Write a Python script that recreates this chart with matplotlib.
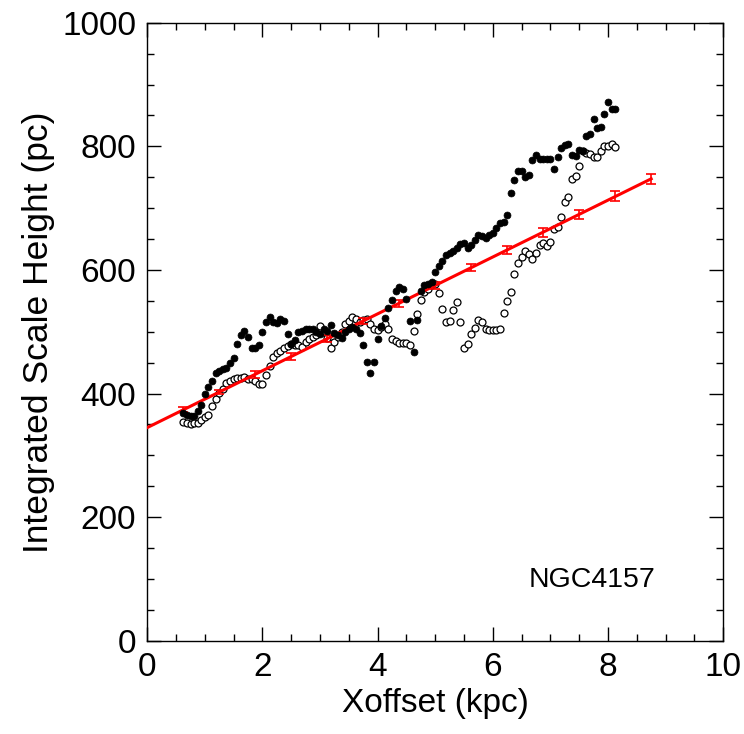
import numpy as np
import matplotlib
matplotlib.use('Agg')
import matplotlib.pyplot as plt
from matplotlib.ticker import MultipleLocator

plt.rcParams['font.family'] = ['Liberation Sans', 'DejaVu Sans']

# posiciones en x (kpc), paso de 0.0625
xoff = [0.625, 0.6875, 0.75, 0.8125, 0.875, 0.9375, 1.0, 1.0625, 1.125, 1.1875,
        1.25, 1.3125, 1.375, 1.4375, 1.5, 1.5625, 1.625, 1.6875, 1.75, 1.8125,
        1.875, 1.9375, 2.0, 2.0625, 2.125, 2.1875, 2.25, 2.3125, 2.375, 2.4375,
        2.5, 2.5625, 2.625, 2.6875, 2.75, 2.8125, 2.875, 2.9375, 3.0, 3.0625,
        3.125, 3.1875, 3.25, 3.3125, 3.375, 3.4375, 3.5, 3.5625, 3.625, 3.6875,
        3.75, 3.8125, 3.875, 3.9375, 4.0, 4.0625, 4.125, 4.1875, 4.25, 4.3125,
        4.375, 4.4375, 4.5, 4.5625, 4.625, 4.6875, 4.75, 4.8125, 4.875, 4.9375,
        5.0, 5.0625, 5.125, 5.1875, 5.25, 5.3125, 5.375, 5.4375, 5.5, 5.5625,
        5.625, 5.6875, 5.75, 5.8125, 5.875, 5.9375, 6.0, 6.0625, 6.125, 6.1875,
        6.25, 6.3125, 6.375, 6.4375, 6.5, 6.5625, 6.625, 6.6875, 6.75, 6.8125,
        6.875, 6.9375, 7.0, 7.0625, 7.125, 7.1875, 7.25, 7.3125, 7.375, 7.4375,
        7.5, 7.5625, 7.625, 7.6875, 7.75, 7.8125, 7.875, 7.9375, 8.0, 8.0625,
        8.125]

# altura de escala integrada (pc), puntos llenos
h_lleno = [368, 365, 364, 363, 372, 382, 400, 411, 421, 434,
           437, 439, 441, 450, 457, 481, 495, 502, 492, 473,
           473, 478, 500, 516, 524, 515, 514, 520, 518, 496,
           481, 487, 500, 502, 504, 505, 504, 500, 496, 505,
           502, 511, 498, 494, 490, 500, 505, 507, 505, 498,
           478, 451, 433, 451, 488, 509, 523, 539, 551, 566,
           572, 569, 553, 518, 468, 519, 566, 575, 578, 581,
           596, 606, 615, 624, 627, 630, 635, 642, 644, 635,
           640, 648, 656, 655, 652, 656, 660, 668, 676, 678,
           689, 725, 745, 760, 760, 751, 753, 778, 786, 779,
           780, 779, 779, 764, 782, 797, 802, 804, 786, 784,
           794, 792, 817, 820, 844, 829, 832, 853, 871, 860,
           860]

# puntos vacios
h_vacio = [354, 353, 351, 352, 353, 358, 362, 366, 380, 391,
           401, 407, 417, 420, 423, 425, 426, 427, 423, 424,
           420, 416, 415, 430, 444, 459, 465, 469, 473, 477,
           481, 479, 478, 476, 484, 488, 492, 495, 510, 500,
           490, 473, 484, 491, 500, 512, 518, 524, 520, 516,
           519, 520, 512, 505, 503, 508, 512, 504, 489, 485,
           482, 482, 482, 478, 501, 529, 552, 565, 570, 575,
           577, 563, 537, 515, 517, 536, 548, 515, 474, 481,
           496, 506, 519, 516, 504, 503, 503, 503, 504, 530,
           549, 564, 593, 612, 621, 631, 626, 618, 627, 641,
           644, 638, 646, 667, 670, 686, 710, 718, 747, 752,
           768, 793, 790, 788, 782, 782, 793, 800, 800, 804,
           799]

# ajuste lineal con barras de error
ajuste_x = [0.0, 8.75]
ajuste_y = [345, 747.5]
barra_x = [0.625, 1.25, 1.875, 2.5, 3.125, 3.75, 4.375, 5.0, 5.625, 6.25, 6.875, 7.5, 8.125, 8.75]
barra_y = [374, 402.5, 431, 460, 489, 517.5, 546, 575, 604, 632.5, 661, 690, 719, 747.5]
barra_err = [4, 4, 5, 5, 5, 5, 6, 6, 6, 7, 7, 7, 8, 8]

fig = plt.figure(figsize=(7.44, 7.34), dpi=100)
ax = fig.add_axes([0.198, 0.127, 0.774, 0.842])

ax.plot(ajuste_x, ajuste_y, color='red', lw=2.2, zorder=3)
ax.errorbar(barra_x, barra_y, yerr=barra_err, fmt='none', ecolor='red',
            elinewidth=1.2, capsize=3.5, capthick=1.2, zorder=3)

ax.plot(xoff, h_vacio, 'o', ms=5, mfc='white', mec='black', mew=0.9, ls='none', zorder=2)
ax.plot(xoff, h_lleno, 'o', ms=5, mfc='black', mec='black', mew=0.5, ls='none', zorder=4)

ax.text(7.73, 98, 'NGC4157', fontsize=20.5, ha='center', va='center')

ax.set_xlim(0, 10)
ax.set_ylim(0, 1000)
ax.xaxis.set_major_locator(MultipleLocator(2))
ax.xaxis.set_minor_locator(MultipleLocator(0.5))
ax.yaxis.set_major_locator(MultipleLocator(200))
ax.yaxis.set_minor_locator(MultipleLocator(50))
ax.tick_params(which='both', direction='in', top=True, right=True, labelsize=24)
ax.tick_params(which='major', length=10, width=1, pad=8)
ax.tick_params(which='minor', length=5, width=1)
for s in ax.spines.values():
    s.set_linewidth(1)

ax.set_xlabel('Xoffset (kpc)', fontsize=24, labelpad=4)
ax.set_ylabel('Integrated Scale Height (pc)', fontsize=25.5, labelpad=5)

plt.savefig('out.png', dpi=100)
